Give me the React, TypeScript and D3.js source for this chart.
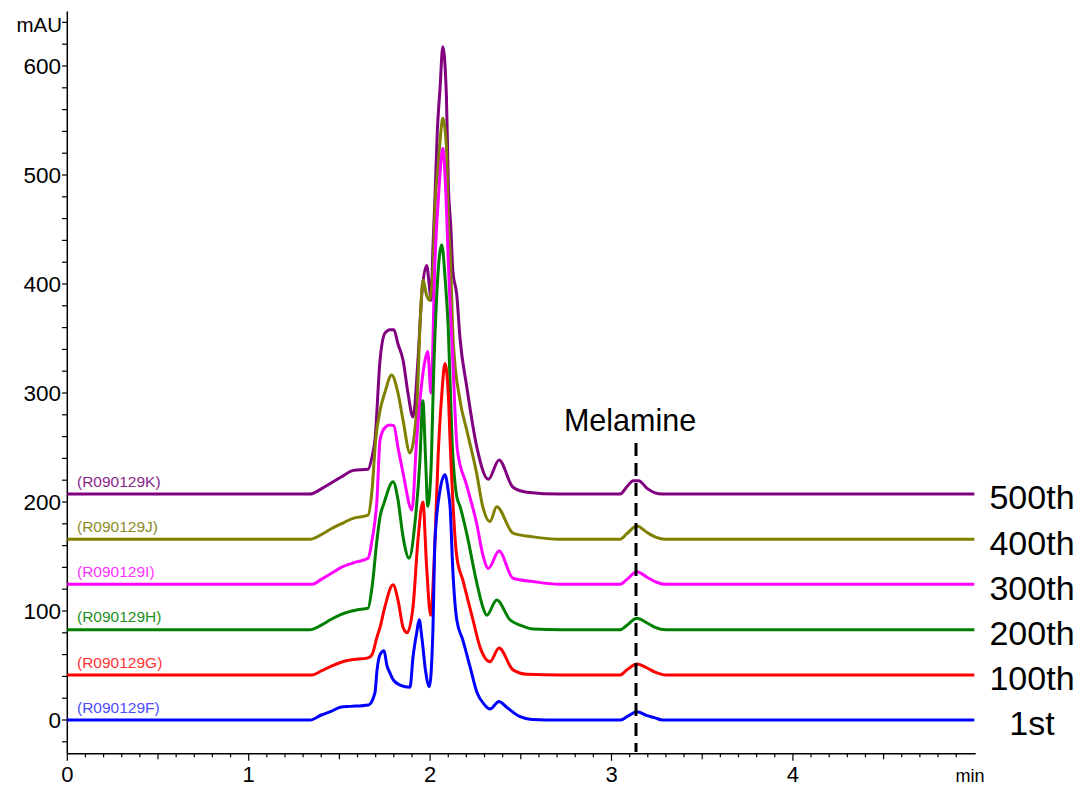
import React from "react";
import * as d3 from "d3";

// ---- data (time in min, absorbance in mAU) ----
const injectionLabels = ["1st", "100th", "200th", "300th", "400th", "500th"];
const sampleIds = ["(R090129F)", "(R090129G)", "(R090129H)", "(R090129I)", "(R090129J)", "(R090129K)"];
const baselines = [0, 41.3, 82.8, 124.5, 165.8, 207.3];
const melamineTime = 3.135;

const trace1st: [number, number][] = [
  [0, 0], [1.338, 0], [1.4, 4.6], [1.45, 7.6], [1.51, 12], [1.56, 12.5], [1.66, 13.8], [1.696, 25],
  [1.707, 45], [1.724, 60], [1.746, 63.6], [1.762, 50], [1.779, 43], [1.796, 37], [1.834, 32], [1.889, 30],
  [1.906, 58], [1.926, 80], [1.94, 92], [1.955, 75], [1.975, 45], [1.996, 30.6], [2.015, 80], [2.027, 165],
  [2.055, 211], [2.082, 225], [2.1, 210], [2.11, 196], [2.126, 135], [2.147, 92], [2.181, 73], [2.22, 49],
  [2.259, 25], [2.3, 14], [2.33, 10], [2.38, 17], [2.42, 12], [2.496, 3], [2.56, 0.5], [2.72, 0],
  [3.05, 0], [3.09, 3.5], [3.14, 7.6], [3.196, 4], [3.24, 2], [3.28, 0], [5, 0],
];
const trace100th: [number, number][] = [
  [0, 41.3], [1.35, 41.3], [1.4, 45], [1.45, 49], [1.51, 53], [1.558, 55], [1.658, 57], [1.68, 60],
  [1.707, 76], [1.724, 85], [1.751, 104], [1.796, 124], [1.823, 110], [1.851, 85], [1.873, 80], [1.906, 104],
  [1.933, 165], [1.96, 200], [1.981, 140], [2.003, 96], [2.027, 165], [2.044, 241], [2.065, 300], [2.082, 327],
  [2.1, 300], [2.11, 257], [2.147, 150], [2.181, 128], [2.236, 92], [2.275, 67], [2.33, 53.5], [2.38, 66],
  [2.457, 46], [2.534, 42], [2.72, 41.3], [3.047, 41.3], [3.085, 46], [3.14, 51.4], [3.196, 47.7],
  [3.24, 44], [3.3, 41.3], [5, 41.3],
];
const trace200th: [number, number][] = [
  [0, 82.8], [1.338, 82.8], [1.4, 87], [1.45, 92], [1.51, 97], [1.595, 101], [1.658, 102.6], [1.68, 122],
  [1.707, 165], [1.724, 186.5], [1.746, 199], [1.796, 218.6], [1.823, 202], [1.851, 168], [1.884, 148.4],
  [1.916, 180], [1.944, 238.5], [1.96, 293], [1.975, 240], [1.987, 196], [2.005, 230], [2.02, 320],
  [2.04, 400], [2.064, 436], [2.085, 400], [2.1, 360], [2.121, 257], [2.147, 205], [2.165, 196], [2.202, 171],
  [2.257, 126], [2.29, 104], [2.312, 96], [2.367, 110], [2.44, 92], [2.496, 87], [2.567, 83.5], [2.72, 82.8],
  [3.047, 82.8], [3.085, 87], [3.14, 93.3], [3.196, 89], [3.24, 85], [3.3, 82.8], [5, 82.8],
];
const trace300th: [number, number][] = [
  [0, 124.5], [1.35, 124.5], [1.4, 129], [1.45, 134], [1.51, 140], [1.595, 145], [1.658, 148.4], [1.68, 165],
  [1.707, 202], [1.724, 257], [1.75, 268], [1.779, 270.6], [1.8, 270], [1.823, 250], [1.851, 226.6],
  [1.9, 192.7], [1.926, 257], [1.972, 330], [1.987, 338], [2.005, 300], [2.027, 422], [2.05, 490],
  [2.07, 524.5], [2.09, 470], [2.1, 422], [2.125, 330], [2.15, 248], [2.202, 215], [2.257, 180], [2.29, 152],
  [2.321, 139], [2.38, 155], [2.457, 130], [2.567, 127], [2.716, 124.5], [3.047, 124.5], [3.085, 129],
  [3.14, 136], [3.196, 131], [3.24, 127], [3.3, 124.5], [5, 124.5],
];
const trace400th: [number, number][] = [
  [0, 165.8], [1.338, 165.8], [1.4, 170], [1.45, 175], [1.51, 180], [1.575, 185], [1.658, 188], [1.68, 211],
  [1.7, 257], [1.724, 284], [1.75, 300], [1.788, 316.5], [1.823, 300], [1.851, 275], [1.889, 245],
  [1.926, 284], [1.944, 361], [1.961, 403.7], [1.98, 390], [1.995, 385], [2.016, 413], [2.027, 470],
  [2.045, 510], [2.06, 541], [2.07, 552], [2.09, 526], [2.1, 461], [2.11, 430], [2.128, 346], [2.165, 293],
  [2.202, 266], [2.257, 226], [2.29, 196], [2.33, 182], [2.367, 195.7], [2.457, 171.5], [2.567, 168],
  [2.716, 165.8], [3.047, 165.8], [3.085, 171], [3.14, 178], [3.196, 172], [3.24, 168], [3.3, 165.8], [5, 165.8],
];
const trace500th: [number, number][] = [
  [0, 207.3], [1.338, 207.3], [1.4, 212], [1.45, 217], [1.51, 223], [1.578, 229], [1.658, 230], [1.68, 241.5],
  [1.696, 257], [1.724, 330], [1.751, 355], [1.779, 358], [1.8, 358], [1.823, 345], [1.851, 330], [1.878, 300],
  [1.906, 278], [1.933, 330], [1.955, 392], [1.981, 417], [1.995, 400], [2.005, 385], [2.016, 435],
  [2.027, 480], [2.04, 541], [2.055, 580], [2.07, 617.7], [2.09, 572], [2.1, 495], [2.115, 450], [2.125, 413],
  [2.147, 390], [2.165, 350], [2.202, 305.8], [2.257, 250.8], [2.321, 220.8], [2.38, 238.5], [2.457, 213.5],
  [2.534, 209], [2.716, 207.3], [3.047, 207.3], [3.085, 214], [3.12, 219.6], [3.15, 219.6], [3.196, 212.5],
  [3.24, 208.4], [3.28, 207.3], [5, 207.3],
];
const traces = [trace1st, trace100th, trace200th, trace300th, trace400th, trace500th];

const yTickLabels = [0, 100, 200, 300, 400, 500, 600];
const xTickLabels = [0, 1, 2, 3, 4];

// ---- styles ----
const lineColors = ["#0000ff", "#ff0000", "#008000", "#ff00ff", "#808000", "#800080"];
const idColors = ["#4d4dff", "#ff3333", "#1f8f1f", "#ff33ff", "#8c8c26", "#8a268a"];
const FONT = "'Liberation Sans', Arial, Helvetica, sans-serif";

export default function App() {
  const W = 1083, H = 788;
  const x = d3.scaleLinear().domain([0, 5]).range([67.3, 974.3]);
  const y = d3.scaleLinear().domain([0, 600]).range([720, 66]);
  const yMin = -31, yMax = 650;
  const xAxisY = y(yMin);
  const line = d3
    .line<[number, number]>()
    .x((d) => x(d[0]))
    .y((d) => y(d[1]))
    .curve(d3.curveMonotoneX);

  const yMinor = d3.range(-20, 641, 20);
  const xMinor = d3.range(0, 50, 1).map((i) => i / 10);

  const order = [5, 4, 3, 2, 1, 0];

  return (
    <svg width={W} height={H} style={{ position: "absolute", left: 0, top: 0, background: "#fff" }}
      fontFamily={FONT}>
      <rect x={0} y={0} width={W} height={H} fill="#fff" />
      {/* y axis */}
      <line x1={67.3} x2={67.3} y1={y(yMax)} y2={xAxisY} stroke="#000" strokeWidth={1.5} />
      {yMinor.map((v) => (
        <line key={"yt" + v} x1={62} x2={67.3} y1={y(v)} y2={y(v)} stroke="#000" strokeWidth={1.2} />
      ))}
      {yTickLabels.map((v) => (
        <text key={"yl" + v} x={61} y={y(v)} dy="0.36em" textAnchor="end" fontSize={22.5} fill="#000">
          {v}
        </text>
      ))}
      <text x={62} y={25} dy="0.36em" textAnchor="end" fontSize={20.5} fill="#000">mAU</text>

      {/* x axis */}
      <line x1={67.3} x2={975.7} y1={xAxisY} y2={xAxisY} stroke="#000" strokeWidth={1.5} />
      {xMinor.map((t) => {
        const major = Math.abs(t - Math.round(t)) < 1e-6;
        const half = !major && Math.abs(t * 2 - Math.round(t * 2)) < 1e-6;
        const len = major ? 7 : half ? 5.5 : 3.5;
        return (
          <line key={"xt" + t} x1={x(t)} x2={x(t)} y1={xAxisY} y2={xAxisY + len} stroke="#000" strokeWidth={1.2} />
        );
      })}
      {xTickLabels.map((t) => (
        <text key={"xl" + t} x={x(t)} y={774} dy="0.36em" textAnchor="middle" fontSize={22} fill="#000">
          {t}
        </text>
      ))}
      <text x={970} y={776} dy="0.36em" textAnchor="middle" fontSize={18} fill="#000">min</text>

      {/* traces */}
      {order.map((i) => (
        <path key={"tr" + i} d={line(traces[i]) || ""} fill="none" stroke={lineColors[i]}
          strokeWidth={3} strokeLinejoin="round" />
      ))}

      {/* sample ids */}
      {order.map((i) => (
        <text key={"id" + i} x={77} y={y(baselines[i]) - 13} dy="0.36em" fontSize={15.5} fill={idColors[i]}>
          {sampleIds[i]}
        </text>
      ))}

      {/* injection labels */}
      {order.map((i) => (
        <text key={"inj" + i} x={1032} y={y(baselines[i]) + 3} dy="0.36em" textAnchor="middle" fontSize={34} fill="#000">
          {injectionLabels[i]}
        </text>
      ))}

      {/* melamine marker */}
      <line x1={x(melamineTime)} x2={x(melamineTime)} y1={443} y2={752} stroke="#000" strokeWidth={3}
        strokeDasharray="13,7" />
      <text x={630} y={431} textAnchor="middle" fontSize={30.5} fill="#000">Melamine</text>
    </svg>
  );
}
